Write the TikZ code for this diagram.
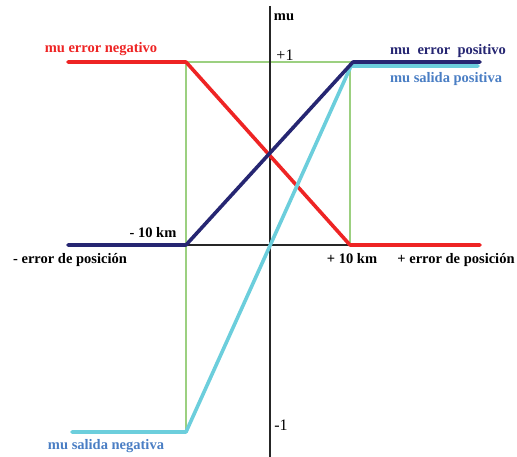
\documentclass[tikz,border=0pt]{standalone}
\usepackage{fontspec}
\setmainfont{Liberation Serif}[BoldFont={Liberation Serif Bold}]
\definecolor{cred}{HTML}{EE2424}
\definecolor{cnavy}{HTML}{262672}
\definecolor{ccyan}{HTML}{6CCEDC}
\definecolor{cgreen}{HTML}{9CD080}
\definecolor{csal}{HTML}{4A7EC4}
\begin{document}
\begin{tikzpicture}[x=1pt,y=-1pt,
  lbl/.style={font=\fontsize{14.5}{16}\selectfont\bfseries, inner sep=0pt, anchor=base},
  num/.style={font=\fontsize{16}{18}\selectfont, inner sep=0pt, anchor=base},
  curve/.style={line width=3.6pt, line join=round, line cap=round},
  axis/.style={line width=1.2pt, black!85},
  guide/.style={line width=1.1pt, cgreen}]
\useasboundingbox (0,0) rectangle (517,457);
% coordinates
\coordinate (L) at (68,245);
\coordinate (R) at (480,245);
\coordinate (T) at (270,6);
\coordinate (B) at (270,457);
\coordinate (m10) at (186,245);
\coordinate (p10) at (350,245);
\coordinate (m10t) at (186,62);
\coordinate (p10t) at (350,62);
\coordinate (m10b) at (186,432);
% guides
\draw[guide] (m10b) -- (m10t) -- (p10t) -- (p10);
% axes
\draw[axis] (L) -- (R);
\draw[axis] (T) -- (B);
% curves
\coordinate (rs) at (68,62);
\coordinate (re) at (480,245);
\draw[curve, cred] (rs) -- (m10t) -- (p10) -- (re);
\coordinate (cs) at (72,432);
\coordinate (ct) at (351,66);
\coordinate (ce) at (478,66);
\draw[curve, ccyan] (cs) -- (m10b) -- (ct) -- (ce);
\coordinate (ns) at (68,245);
\coordinate (nt) at (353,62);
\coordinate (ne) at (480,62);
\draw[curve, cnavy] (ns) -- (m10) -- (nt) -- (ne);
% labels
\node[lbl] (lmu) at (284,21) {mu};
\node[num] (lp1) at (285,61) {+1};
\node[num] (lm1) at (281,430) {-1};
\node[lbl, text=cred] (lneg) at (101,53) {mu error negativo};
\node[lbl, text=cnavy] (lpos) at (448,55) {mu\ \ error\ \ positivo};
\node[lbl, text=csal] (lsp) at (446,83) {mu salida positiva};
\node[lbl, text=csal] (lsn) at (106,449) {mu salida negativa};
\node[lbl] (lm10) at (153,238) {- 10 km};
\node[lbl] (lp10) at (352,264) {+ 10 km};
\node[lbl] (lme) at (70,264) {- error de posición};
\node[lbl] (lpe) at (456,264) {+ error de posición};
\end{tikzpicture}
\end{document}
